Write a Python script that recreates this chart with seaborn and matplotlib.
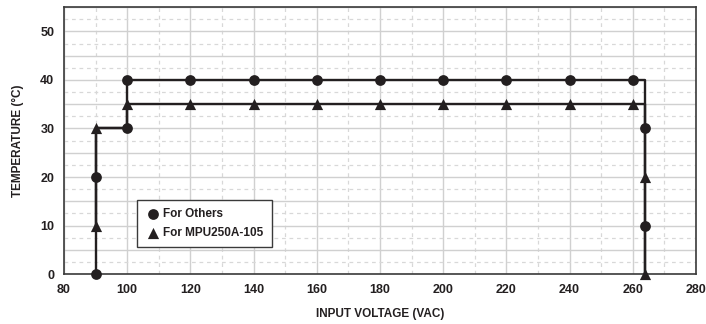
import numpy as np
import pandas as pd
import matplotlib
matplotlib.use("Agg")
import matplotlib.pyplot as plt
import seaborn as sns
from matplotlib.ticker import MultipleLocator

# derating curves (input voltage vs ambient temperature)
others_x = [90, 90, 100, 100, 264, 264]
others_y = [0, 30, 30, 40, 40, 0]
mpu_x = [90, 90, 100, 100, 264, 264]
mpu_y = [10, 30, 30, 35, 35, 0]

# marker positions
others_mx = [90, 90, 100, 100, 120, 140, 160, 180, 200, 220, 240, 260, 264, 264]
others_my = [0, 20, 30, 40, 40, 40, 40, 40, 40, 40, 40, 40, 30, 10]
mpu_mx = [90, 90, 100, 120, 140, 160, 180, 200, 220, 240, 260, 264, 264]
mpu_my = [10, 30, 35, 35, 35, 35, 35, 35, 35, 35, 35, 20, 0]

x_ticks = [80, 100, 120, 140, 160, 180, 200, 220, 240, 260, 280]
y_ticks = [0, 10, 20, 30, 40, 50]

sns.set_style("white")
plt.rcParams['font.family'] = ['Liberation Sans', 'DejaVu Sans']

ink = '#231f20'
fig = plt.figure(figsize=(7.06, 3.24), dpi=100)
ax = fig.add_axes([0.0907, 0.154, 0.895, 0.824])

line_df = pd.concat([
    pd.DataFrame({'v': others_x, 't': others_y, 's': 'For Others'}),
    pd.DataFrame({'v': mpu_x, 't': mpu_y, 's': 'For MPU250A-105'}),
])
sns.lineplot(data=line_df, x='v', y='t', units='s', estimator=None, sort=False,
             color=ink, linewidth=1.7, ax=ax, legend=False)

sns.scatterplot(x=others_mx, y=others_my, marker='o', s=60, color=ink,
                edgecolor=ink, linewidth=0, ax=ax, label='For Others',
                zorder=5, clip_on=False)
sns.scatterplot(x=mpu_mx, y=mpu_my, marker='^', s=65, color=ink,
                edgecolor=ink, linewidth=0, ax=ax, label='For MPU250A-105',
                zorder=5, clip_on=False)

ax.set_xlim(80, 280)
ax.set_ylim(0, 55)
ax.set_xticks(x_ticks)
ax.xaxis.set_minor_locator(MultipleLocator(10))
ax.yaxis.set_major_locator(MultipleLocator(5))
ax.yaxis.set_minor_locator(MultipleLocator(2.5))

ax.grid(which='major', axis='x', color='#d0d0d0', linewidth=1.0, linestyle='-')
ax.grid(which='minor', axis='x', color='#d8d8d8', linewidth=0.9, linestyle=(0, (3, 3)))
ax.grid(which='major', axis='y', color='#d0d0d0', linewidth=1.0, linestyle='-')
ax.grid(which='minor', axis='y', color='#d8d8d8', linewidth=0.9, linestyle=(0, (3, 3)))
ax.set_axisbelow(True)

ax.set_yticklabels([str(int(v)) if v % 10 == 0 else '' for v in ax.get_yticks()])

ax.tick_params(which='both', length=3, width=0.6, color='#999999', labelsize=9,
               labelcolor=ink, pad=4)
for lab in ax.get_xticklabels() + ax.get_yticklabels():
    lab.set_fontweight('bold')

for sp in ax.spines.values():
    sp.set_color('#3a3a3a')
    sp.set_linewidth(1.2)

ax.set_xlabel('INPUT VOLTAGE (VAC)', fontsize=8.5, fontweight='bold', color=ink, labelpad=9)
ax.set_ylabel('TEMPERATURE (°C)', fontsize=8.5, fontweight='bold', color=ink, labelpad=12)

leg = ax.legend(loc='upper left', bbox_to_anchor=(0.116, 0.278), borderaxespad=0,
                frameon=True, fancybox=False, edgecolor='#3a3a3a', fontsize=8.5,
                handletextpad=0.3, borderpad=0.7, labelspacing=0.6, handlelength=1.2,
                framealpha=1)
leg.get_frame().set_linewidth(1.0)
for t in leg.get_texts():
    t.set_fontweight('bold')
    t.set_color(ink)

fig.savefig('out.png', dpi=100)
